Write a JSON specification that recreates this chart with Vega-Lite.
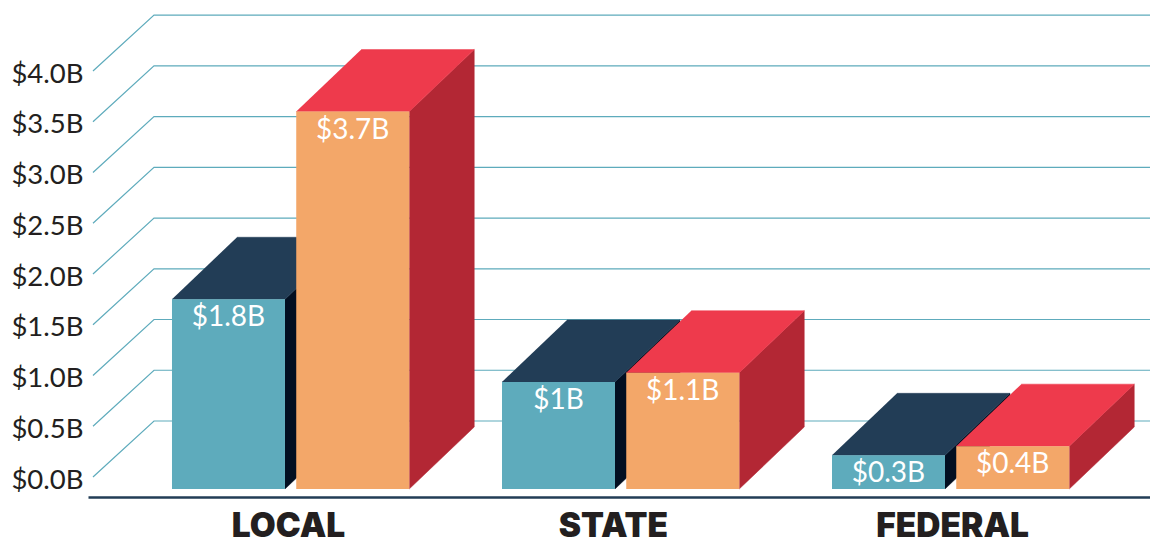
{
"$schema":"https://vega.github.io/schema/vega-lite/v6.json",
"width":1062,"height":497,
"autosize":{"type":"none"},
"padding":{"left":88,"top":0,"right":0,"bottom":42},
"background":"white",
"config":{"view":{"stroke":null}},
"datasets":{
 "bars":[
  {"level":"LOCAL","series":"first","value":1.86,"label":"$1.8B"},
  {"level":"LOCAL","series":"second","value":3.7,"label":"$3.7B"},
  {"level":"STATE","series":"first","value":1.05,"label":"$1B"},
  {"level":"STATE","series":"second","value":1.14,"label":"$1.1B"},
  {"level":"FEDERAL","series":"first","value":0.33,"label":"$0.3B"},
  {"level":"FEDERAL","series":"second","value":0.42,"label":"$0.4B"}
 ],
 "ticks":[{"tick":0},{"tick":0.5},{"tick":1},{"tick":1.5},{"tick":2},{"tick":2.5},{"tick":3},{"tick":3.5},{"tick":4}]
},
"layer":[
 {
  "data":{"name":"ticks"},
  "transform":[
   {"calculate":"[-0.2394,-0.0545,2.9636]","as":"xs"},
   {"calculate":"[datum.tick,datum.tick+0.5517,datum.tick+0.5517]","as":"ys"},
   {"calculate":"[0,1,2]","as":"is"},
   {"flatten":["xs","ys","is"],"as":["gx","gy","i"]}
  ],
  "mark":{"type":"line","stroke":"#5eabbc","strokeWidth":1.2},
  "encoding":{
   "x":{"field":"gx","type":"quantitative","scale":{"domain":[-0.2545,2.9636],"nice":false,"zero":false},
     "axis":{"title":null,"grid":false,"ticks":false,"values":[0.3515,1.336,2.364],
       "labelExpr":"datum.value<1?'LOCAL':datum.value<2?'STATE':'FEDERAL'",
       "domainColor":"#223d56","domainWidth":2.5,
       "labelFont":"Inter","labelFontWeight":900,"labelFontSize":33.5,"labelColor":"#231f20","labelPadding":39,"labelBaseline":"alphabetic","labelFlush":false,"labelOverlap":false}},
   "y":{"field":"gy","type":"quantitative","scale":{"domain":[-0.197,4.7],"nice":false,"zero":false},
     "axis":{"title":null,"grid":false,"ticks":false,"domain":false,"values":[0,0.5,1,1.5,2,2.5,3,3.5,4],
       "labelExpr":"'$'+format(datum.value,'.1f')+'B'",
       "labelFont":"Lato","labelFontSize":27.5,"labelColor":"#231f20","labelPadding":5,"labelOffset":3,"labelFlush":false,"labelOverlap":false}},
   "detail":{"field":"tick"},
   "order":{"field":"i"}
  }
 },
 {
  "data":{"name":"bars"},
  "transform":[
   {"calculate":"indexof(['LOCAL','STATE','FEDERAL'],datum.level)+(datum.series==='second'?0.3765:0)","as":"x0"},
   {"calculate":"datum.x0+0.3424","as":"x1"},
   {"calculate":"datum.x0+0.1712","as":"xc"},
   {"calculate":"[0,1,2,3]","as":"is"}
  ],
  "layer":[
   {"transform":[{"filter":"datum.series==='first'"},
     {"calculate":"[datum.x1,datum.x1+0.197,datum.x1+0.197,datum.x1]","as":"xs"},
     {"calculate":"[datum.value,datum.value+0.608,0.608,0]","as":"ys"},
     {"flatten":["xs","ys","is"],"as":["px","py","i"]}],
    "mark":{"type":"line","fill":"#020f21","stroke":"#020f21","strokeWidth":0.5},
    "encoding":{"x":{"field":"px","type":"quantitative"},
      "y":{"field":"py","type":"quantitative","scale":{"domain":[-0.0784,4.794],"nice":false,"zero":false},"axis":null},
      "detail":{"field":"level"},"order":{"field":"i"}}},
   {"transform":[{"filter":"datum.series==='first'"},
     {"calculate":"[datum.x0,datum.x1,datum.x1+0.197,datum.x0+0.197]","as":"xs"},
     {"calculate":"[datum.value,datum.value,datum.value+0.608,datum.value+0.608]","as":"ys"},
     {"flatten":["xs","ys","is"],"as":["px","py","i"]}],
    "mark":{"type":"line","fill":"#223d56","stroke":"#223d56","strokeWidth":0.5},
    "encoding":{"x":{"field":"px","type":"quantitative"},
      "y":{"field":"py","type":"quantitative"},
      "detail":{"field":"level"},"order":{"field":"i"}}},
   {"transform":[{"filter":"datum.series==='first'"}],
    "mark":{"type":"rect","fill":"#5eabbc"},
    "encoding":{"x":{"field":"x0","type":"quantitative"},"x2":{"field":"x1"},
      "y":{"field":"value","type":"quantitative"},"y2":{"datum":0}}},
   {"transform":[{"filter":"datum.series==='second'"},
     {"calculate":"[datum.x1,datum.x1+0.197,datum.x1+0.197,datum.x1]","as":"xs"},
     {"calculate":"[datum.value,datum.value+0.608,0.608,0]","as":"ys"},
     {"flatten":["xs","ys","is"],"as":["px","py","i"]}],
    "mark":{"type":"line","fill":"#b32734","stroke":"#b32734","strokeWidth":0.5},
    "encoding":{"x":{"field":"px","type":"quantitative"},
      "y":{"field":"py","type":"quantitative"},
      "detail":{"field":"level"},"order":{"field":"i"}}},
   {"transform":[{"filter":"datum.series==='second'"},
     {"calculate":"[datum.x0,datum.x1,datum.x1+0.197,datum.x0+0.197]","as":"xs"},
     {"calculate":"[datum.value,datum.value,datum.value+0.608,datum.value+0.608]","as":"ys"},
     {"flatten":["xs","ys","is"],"as":["px","py","i"]}],
    "mark":{"type":"line","fill":"#ee3a4c","stroke":"#ee3a4c","strokeWidth":0.5},
    "encoding":{"x":{"field":"px","type":"quantitative"},
      "y":{"field":"py","type":"quantitative"},
      "detail":{"field":"level"},"order":{"field":"i"}}},
   {"transform":[{"filter":"datum.series==='second'"}],
    "mark":{"type":"rect","fill":"#f3a769"},
    "encoding":{"x":{"field":"x0","type":"quantitative"},"x2":{"field":"x1"},
      "y":{"field":"value","type":"quantitative"},"y2":{"datum":0}}},
   {"mark":{"type":"text","color":"white","font":"Lato","fontSize":28,"baseline":"middle","align":"center","dy":19},
    "encoding":{"x":{"field":"xc","type":"quantitative"},
      "y":{"field":"value","type":"quantitative"},
      "text":{"field":"label"}}}
  ]
 }
],
"resolve":{"scale":{"y":"independent"}}
}
